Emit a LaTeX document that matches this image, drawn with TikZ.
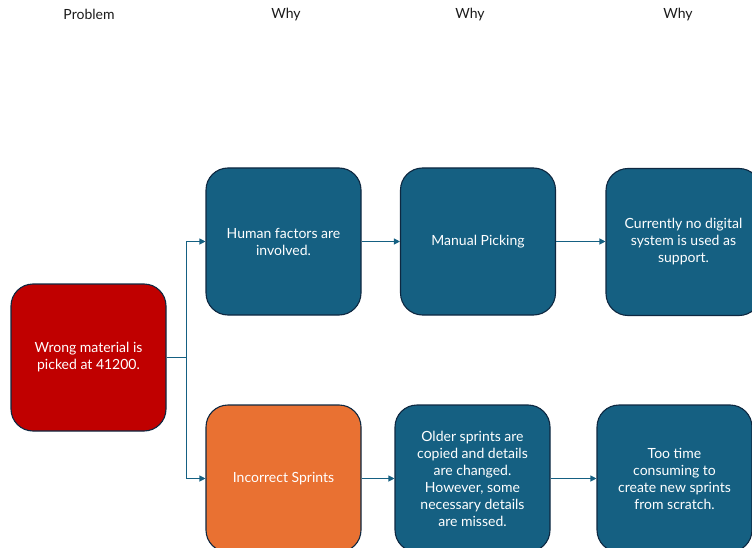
\documentclass[tikz,border=0pt]{standalone}
\usepackage{fontspec}
\setmainfont{Lato}
\usetikzlibrary{arrows.meta}
\definecolor{whyblue}{HTML}{156082}
\definecolor{edgeblue}{HTML}{0E2841}
\definecolor{probred}{HTML}{C00000}
\definecolor{causeorange}{HTML}{E97132}
\definecolor{headgray}{HTML}{1A1A1A}
\tikzset{
  card/.style={draw=edgeblue, line width=1.1pt, rounded corners=22pt,
    minimum width=155pt, minimum height=147pt,
    align=center, text=white, font=\fontsize{14}{17}\selectfont, inner sep=0pt},
  whycard/.style={card, fill=whyblue},
  head/.style={text=headgray, font=\fontsize{14}{16}\selectfont},
  link/.style={draw=whyblue, line width=1.1pt},
  arrowlink/.style={link, -{Triangle[length=6pt,width=6pt]}}
}
\begin{document}
\begin{tikzpicture}[x=1pt, y=-1pt]
  \useasboundingbox (0,0) rectangle (752,548);
  % column headings
  \node[head] (hp) at (89,14.5) {Problem};
  \node[head] (h1) at (286,14.5) {Why};
  \node[head] (h2) at (470,14.5) {Why};
  \node[head] (h3) at (678,14.5) {Why};
  % problem statement
  \node[card, fill=probred] (prob) at (88.5,357.5) {Wrong material is\\picked at 41200.};
  % upper chain
  \node[whycard] (human) at (283.5,241.5) {Human factors are\\involved.};
  \node[whycard] (manual) at (478,241.5) {Manual Picking};
  \node[whycard] (digital) at (683.5,242) {Currently no digital\\system is used as\\support.};
  % lower chain
  \node[card, fill=causeorange] (sprints) at (283.5,478.5) {Incorrect Sprints};
  \node[whycard] (older) at (472.5,478.5) {Older sprints are\\copied and details\\are changed.\\However, some\\necessary details\\are missed.};
  \node[whycard] (scratch) at (674.5,478.5) {Too time\\consuming to\\create new sprints\\from scratch.};
  % branching connector
  \draw[link] (prob.east) -- ++(20,0) coordinate (fork);
  \draw[arrowlink] (fork) |- (human.west);
  \draw[arrowlink] (fork) |- (sprints.west);
  % chain connectors
  \draw[arrowlink] (human.east) -- (manual.west);
  \draw[arrowlink] (manual.east) -- (digital.west |- manual.east);
  \draw[arrowlink] (sprints.east) -- (older.west);
  \draw[arrowlink] (older.east) -- (scratch.west);
\end{tikzpicture}
\end{document}
